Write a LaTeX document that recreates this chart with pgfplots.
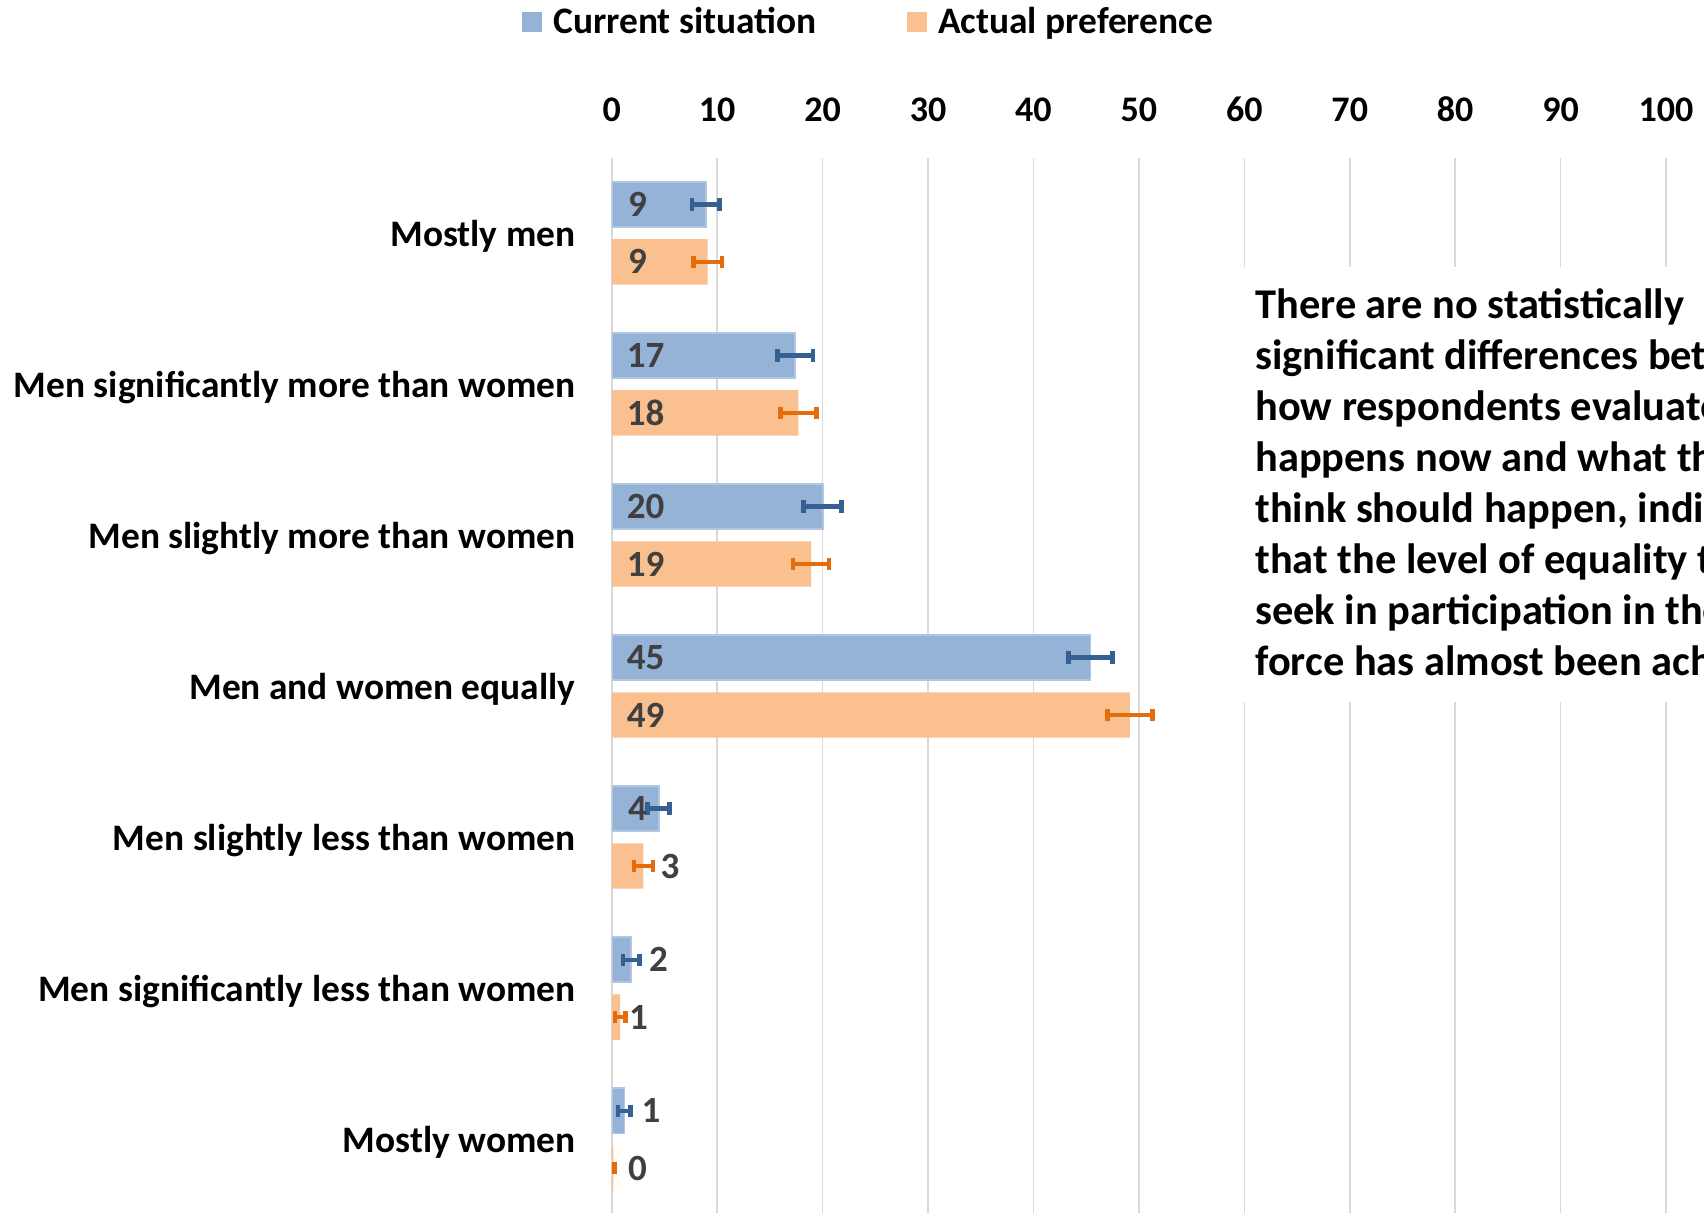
\documentclass[border=0pt]{standalone}
\usepackage{fontspec}
\setmainfont{Carlito}
\usepackage{pgfplots}
\pgfplotsset{compat=1.18}
\definecolor{blueFill}{HTML}{95B3D7}
\definecolor{blueEdge}{HTML}{B0C6E3}
\definecolor{orangeFill}{HTML}{FAC090}
\definecolor{blueErr}{HTML}{376092}
\definecolor{orangeErr}{HTML}{E46C0A}
\definecolor{labc}{HTML}{404040}
\definecolor{gridc}{HTML}{D9D9D9}
\newcommand{\lf}{\bfseries\fontsize{18.7}{22.4}\selectfont}
\newcommand{\tf}{\bfseries\fontsize{18}{21.6}\selectfont}
\newcommand{\df}{\bfseries\fontsize{18.5}{22}\selectfont}
\begin{document}
\begin{tikzpicture}
\useasboundingbox (0,0) rectangle (852pt,606pt);
\clip (0,0) rectangle (852pt,606pt);
\begin{axis}[
  at={(305.9pt,-1.5pt)}, anchor=south west,
  scale only axis, width=527.1pt, height=528.7pt,
  xmin=0, xmax=100, ymin=-0.5, ymax=6.5, y dir=reverse,
  xtick={0,10,...,100}, xticklabel pos=right,
  ytick={0,1,2,3,4,5,6},
  yticklabels={Mostly men, Men significantly more than women, Men slightly more than women, Men and women equally, Men slightly less than women, Men significantly less than women, Mostly women},
  xmajorgrids, grid style={color=gridc, line width=0.8pt},
  axis line style={draw=none}, major tick length=0pt,
  /pgf/number format/assume math mode=true,
  xticklabel style={font=\tf, anchor=center, yshift=24pt},
  yticklabel style={font=\lf, anchor=east, inner sep=0pt, xshift=-18pt, yshift=-1.5pt},
  bar width=0.3, bar shift=0pt,
  legend style={at={(0.2445,1.1285)}, anchor=center, draw=none, fill=none, font=\lf,
    /tikz/every even column/.append style={column sep=43pt}},
  legend columns=2, legend cell align=left,
]
\addlegendimage{legend image code/.code={\fill[blueFill] (0pt,-4.75pt) rectangle (9.5pt,4.75pt); \path[draw=none,fill=none] (0pt,0pt) rectangle (13.5pt,0.1pt);}}
\addlegendentry{Current situation}
\addlegendimage{legend image code/.code={\fill[orangeFill] (0pt,-4.75pt) rectangle (9.5pt,4.75pt); \path[draw=none,fill=none] (0pt,0pt) rectangle (13.5pt,0.1pt);}}
\addlegendentry{Actual preference}

\addplot[xbar, fill=blueFill, draw=blueEdge, line width=0.9pt, forget plot,
  error bars/.cd, x dir=both, x explicit,
  error bar style={line width=2.2pt, draw=blueErr},
  error mark options={rotate=90, line width=2.3pt, mark size=3.1pt, draw=blueErr}]
coordinates {
 (8.9,-0.19) +- (1.3,0)
 (17.4,0.81) +- (1.7,0)
 (20.0,1.81) +- (1.8,0)
 (45.4,2.81) +- (2.1,0)
 (4.45,3.81) +- (1.05,0)
 (1.85,4.81) +- (0.8,0)
 (1.2,5.81) +- (0.6,0)
};
\addplot[xbar, fill=orangeFill, draw=none, forget plot,
  error bars/.cd, x dir=both, x explicit,
  error bar style={line width=2.2pt, draw=orangeErr},
  error mark options={rotate=90, line width=2.3pt, mark size=3.1pt, draw=orangeErr}]
coordinates {
 (9.1,0.19) +- (1.35,0)
 (17.7,1.19) +- (1.7,0)
 (18.9,2.19) +- (1.7,0)
 (49.15,3.19) +- (2.15,0)
 (3.0,4.19) +- (0.9,0)
 (0.8,5.19) +- (0.5,0)
 (0.15,6.19) +- (0.15,0)
};
\addplot[only marks, mark=none, forget plot, nodes near coords, point meta=explicit symbolic,
  nodes near coords style={anchor=west, inner sep=0pt, font=\df, text=labc}]
coordinates {
 (1.5,-0.19) [9]
 (1.5,0.19) [9]
 (1.4,0.81) [17]
 (1.4,1.19) [18]
 (1.4,1.81) [20]
 (1.4,2.19) [19]
 (1.4,2.81) [45]
 (1.4,3.19) [49]
 (1.5,3.81) [4]
 (4.6,4.19) [3]
 (3.5,4.81) [2]
 (1.6,5.19) [1]
 (2.8,5.81) [1]
 (1.5,6.19) [0]
};
\end{axis}
\fill[white] (620pt,255.2pt) rectangle (860pt,472.5pt);
\foreach \t [count=\i from 0] in {{There are no statistically},{significant differences between},{how respondents evaluate what},{happens now and what they},{think should happen, indicating},{that the level of equality they},{seek in participation in the labour},{force has almost been achieved.}}
  \node[anchor=base west, inner sep=0pt, font=\bfseries\fontsize{21.2}{25.5}\selectfont] at (627.5pt,{446.9pt-\i*25.5pt}) {\t};
\end{tikzpicture}
\end{document}
